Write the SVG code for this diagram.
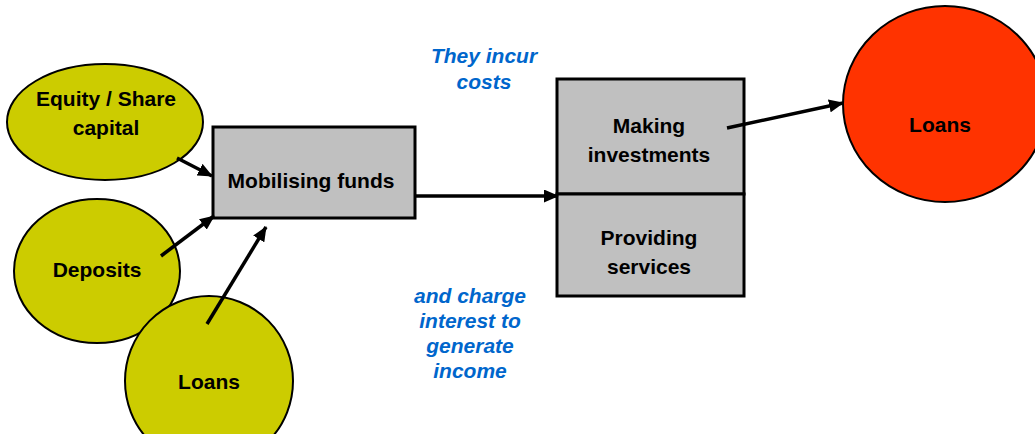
<svg xmlns="http://www.w3.org/2000/svg" width="1035" height="434" viewBox="0 0 1035 434">
<defs>
<marker id="ah" markerWidth="15" markerHeight="13" refX="14" refY="6.5" orient="auto" markerUnits="userSpaceOnUse">
<path d="M0,0 L15,6.5 L0,13 Z" fill="#000"/>
</marker>
<style>
.src{fill:#CCCC00;stroke:#000;stroke-width:2}
.box{fill:#C0C0C0;stroke:#000;stroke-width:3}
.red{fill:#FF3300;stroke:#000;stroke-width:2}
.t{font-family:"Liberation Sans",Arial,sans-serif;font-weight:bold;font-size:21px;fill:#000;text-anchor:middle}
.b{font-family:"Liberation Sans",Arial,sans-serif;font-weight:bold;font-style:italic;font-size:21px;fill:#0066CC;text-anchor:middle}
.c{stroke:#000;stroke-width:3.5;fill:none;marker-end:url(#ah)}
</style>
</defs>
<rect width="1035" height="434" fill="#fff"/>
<g id="equity">
<ellipse class="src" cx="105" cy="122" rx="98" ry="58"/>
<text class="t" x="106" y="106">Equity / Share</text>
<text class="t" x="106" y="135">capital</text>
</g>
<g id="deposits">
<ellipse class="src" cx="97" cy="271" rx="83" ry="72"/>
<text class="t" x="97" y="277">Deposits</text>
</g>
<g id="loans-left">
<ellipse class="src" cx="209" cy="381" rx="84" ry="85"/>
<text class="t" x="209" y="389">Loans</text>
</g>
<g id="mobilising">
<rect class="box" x="213" y="127" width="202" height="91"/>
<text class="t" x="311" y="188">Mobilising funds</text>
</g>
<g id="investments">
<rect class="box" x="557" y="79" width="187" height="115"/>
<text class="t" x="649" y="133">Making</text>
<text class="t" x="649" y="162">investments</text>
</g>
<g id="services">
<rect class="box" x="557" y="194" width="187" height="102"/>
<text class="t" x="649" y="245">Providing</text>
<text class="t" x="649" y="274">services</text>
</g>
<g id="loans-right">
<ellipse class="red" cx="945" cy="104" rx="102" ry="98"/>
<text class="t" x="940" y="132">Loans</text>
</g>
<g id="notes">
<text class="b" x="484" y="63">They incur</text>
<text class="b" x="484" y="89">costs</text>
<text class="b" x="470" y="303">and charge</text>
<text class="b" x="470" y="328">interest to</text>
<text class="b" x="470" y="353">generate</text>
<text class="b" x="470" y="378">income</text>
</g>
<g id="connectors">
<line class="c" x1="177" y1="158" x2="212" y2="176"/>
<line class="c" x1="161" y1="256" x2="214" y2="216"/>
<line class="c" x1="207" y1="324" x2="266" y2="227"/>
<line class="c" x1="415" y1="196" x2="558" y2="196"/>
<line class="c" x1="727" y1="128" x2="843" y2="103"/>
</g>
</svg>
